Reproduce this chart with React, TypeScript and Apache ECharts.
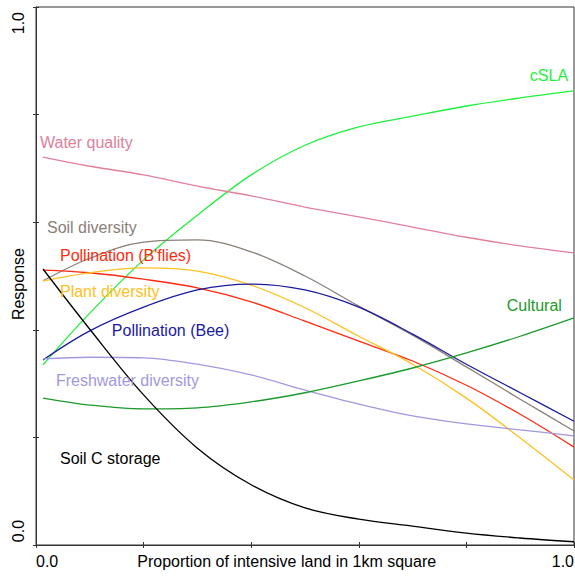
import React, { useEffect, useRef } from "react";
import * as echarts from "echarts";

const xs = [0.013, 0.1, 0.2, 0.3, 0.4, 0.5, 0.6, 0.7, 0.8, 0.9, 1.0];

const cSLA = [0.335, 0.431, 0.53, 0.613, 0.688, 0.743, 0.777, 0.797, 0.816, 0.831, 0.844];
const waterQuality = [0.721, 0.704, 0.688, 0.667, 0.649, 0.628, 0.61, 0.591, 0.572, 0.556, 0.543];
const soilDiversity = [0.491, 0.533, 0.563, 0.567, 0.545, 0.5, 0.444, 0.39, 0.331, 0.271, 0.212];
const pollinationBflies = [0.511, 0.506, 0.494, 0.478, 0.452, 0.416, 0.379, 0.342, 0.297, 0.243, 0.182];
const plantDiversity = [0.491, 0.506, 0.515, 0.509, 0.483, 0.441, 0.388, 0.336, 0.273, 0.199, 0.121];
const pollinationBee = [0.344, 0.398, 0.442, 0.474, 0.485, 0.474, 0.442, 0.392, 0.336, 0.283, 0.23];
const freshwaterDiversity = [0.346, 0.349, 0.348, 0.336, 0.316, 0.288, 0.262, 0.24, 0.225, 0.214, 0.203];
const cultural = [0.273, 0.26, 0.253, 0.255, 0.266, 0.283, 0.305, 0.329, 0.357, 0.388, 0.422];
const soilCStorage = [0.513, 0.401, 0.279, 0.18, 0.112, 0.069, 0.048, 0.035, 0.022, 0.013, 0.006];

const seriesNames = [
  "cSLA",
  "Water quality",
  "Soil diversity",
  "Pollination (B'flies)",
  "Plant diversity",
  "Pollination (Bee)",
  "Freshwater diversity",
  "Cultural",
  "Soil C storage",
];
const seriesValues = [
  cSLA,
  waterQuality,
  soilDiversity,
  pollinationBflies,
  plantDiversity,
  pollinationBee,
  freshwaterDiversity,
  cultural,
  soilCStorage,
];
const seriesColors = [
  "#1ef03c",
  "#e0809a",
  "#8a8078",
  "#ff2a10",
  "#ffc020",
  "#1a1aa0",
  "#a099e0",
  "#1a9a2a",
  "#000000",
];

// label anchor positions in data coordinates
const labelX = [0.989, 0.0074, 0.0204, 0.0446, 0.0446, 0.141, 0.037, 0.875, 0.0446];
const labelY = [0.872, 0.749, 0.591, 0.539, 0.472, 0.398, 0.305, 0.446, 0.16];
const labelAlign = ["right", "left", "left", "left", "left", "left", "left", "left", "left"];

const xTickLabels = ["0.0", "1.0"];
const yTickLabels = ["0.0", "1.0"];
const xTitle = "Proportion of intensive land in 1km square";
const yTitle = "Response";

const FONT = "'Liberation Sans', Arial, sans-serif";

export default function App() {
  const ref = useRef<HTMLDivElement>(null);
  useEffect(() => {
    if (!ref.current) return;
    const chart = echarts.init(ref.current, null, { renderer: "svg" });
    const axisColor = "#333";
    const option: any = {
      animation: false,
      backgroundColor: "#fff",
      grid: {
        left: 36,
        top: 7,
        right: 1,
        bottom: 33,
        containLabel: false,
        outerBoundsMode: "none",
        show: true,
        borderColor: axisColor,
        borderWidth: 1,
        backgroundColor: "transparent",
      },
      xAxis: [
        {
          type: "value",
          min: 0,
          max: 1,
          interval: 0.2,
          position: "bottom",
          splitLine: { show: false },
          axisLine: { show: true, lineStyle: { color: axisColor, width: 1 } },
          axisTick: { show: true, length: 3, lineStyle: { color: axisColor } },
          axisLabel: {
            show: true,
            margin: 8,
            color: "#000",
            fontSize: 16,
            fontFamily: FONT,
            alignMinLabel: "left",
            alignMaxLabel: "right",
            formatter: (v: number) =>
              Math.abs(v) < 1e-9 ? xTickLabels[0] : Math.abs(v - 1) < 1e-9 ? xTickLabels[1] : "",
          },
        },
        {
          type: "value",
          min: 0,
          max: 1,
          interval: 0.2,
          position: "bottom",
          offset: 0,
          splitLine: { show: false },
          axisLine: { show: false },
          axisTick: { show: true, inside: true, length: 3, lineStyle: { color: axisColor } },
          axisLabel: { show: false },
        },
      ],
      yAxis: [
        {
          type: "value",
          min: 0,
          max: 1,
          interval: 0.2,
          position: "left",
          splitLine: { show: false },
          axisLine: { show: true, lineStyle: { color: axisColor, width: 1 } },
          axisTick: { show: true, length: 3, lineStyle: { color: axisColor } },
          axisLabel: { show: false },
        },
        {
          type: "value",
          min: 0,
          max: 1,
          interval: 0.2,
          position: "left",
          offset: 0,
          splitLine: { show: false },
          axisLine: { show: false },
          axisTick: { show: true, inside: true, length: 3, lineStyle: { color: axisColor } },
          axisLabel: { show: false },
        },
      ],
      series: seriesNames.map((name, i) => ({
        name,
        type: "line",
        xAxisIndex: 0,
        yAxisIndex: 0,
        data: xs.map((x, j) => [x, seriesValues[i][j]]),
        smooth: 0.35,
        showSymbol: false,
        symbol: "none",
        lineStyle: { color: seriesColors[i], width: 1.3 },
        z: 3,
      })),
    };
    chart.setOption(option);

    const conv = (x: number, y: number) =>
      chart.convertToPixel({ xAxisIndex: 0, yAxisIndex: 0 }, [x, y]) as number[];

    const graphics: any[] = [];
    seriesNames.forEach((name, i) => {
      const p = conv(labelX[i], labelY[i]);
      graphics.push({
        type: "text",
        x: p[0],
        y: p[1],
        z: 10,
        style: {
          text: name,
          fill: seriesColors[i],
          font: `16px ${FONT}`,
          align: labelAlign[i],
          verticalAlign: "middle",
        },
      });
    });
    const origin = conv(0, 0);
    const yLabelX = origin[0] - 18;
    const yPos = [0.026, 0.97];
    yTickLabels.forEach((t, i) => {
      const p = conv(0, yPos[i]);
      graphics.push({
        type: "text",
        x: yLabelX,
        y: p[1],
        rotation: Math.PI / 2,
        style: { text: t, fill: "#000", font: `16px ${FONT}`, align: "center", verticalAlign: "middle" },
      });
    });
    const pm = conv(0, 0.485);
    graphics.push({
      type: "text",
      x: yLabelX,
      y: pm[1],
      rotation: Math.PI / 2,
      style: { text: yTitle, fill: "#000", font: `16px ${FONT}`, align: "center", verticalAlign: "middle" },
    });
    const px = conv(0.466, 0);
    graphics.push({
      type: "text",
      x: px[0],
      y: origin[1] + 16,
      style: { text: xTitle, fill: "#000", font: `16px ${FONT}`, align: "center", verticalAlign: "middle" },
    });
    chart.setOption({ graphic: graphics });

    return () => chart.dispose();
  }, []);
  return (
    <div
      ref={ref}
      style={{ position: "fixed", left: 0, top: 0, width: 575, height: 578, background: "#fff" }}
    />
  );
}
